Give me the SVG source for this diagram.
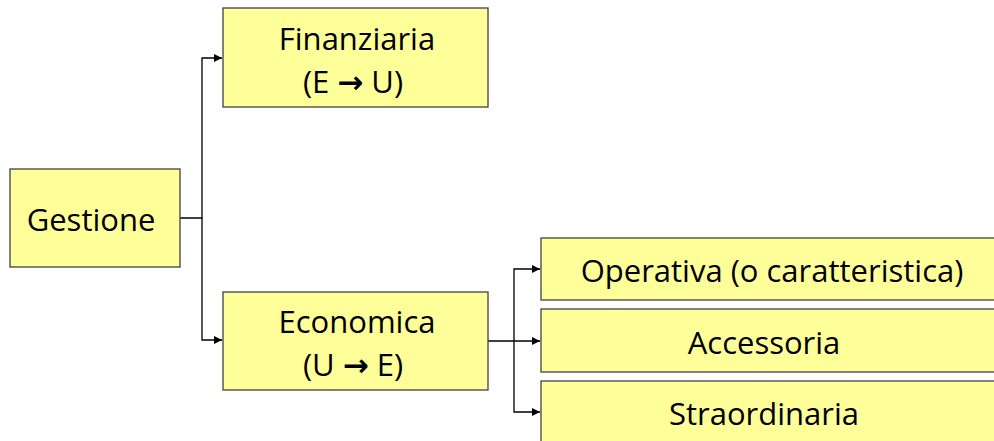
<svg xmlns="http://www.w3.org/2000/svg" width="994" height="441" viewBox="0 0 994 441">
<defs>
<marker id="ah" markerWidth="8" markerHeight="8" refX="8" refY="4" orient="auto" markerUnits="userSpaceOnUse">
<path d="M0,0 L8,4 L0,8 Z" fill="#000"/>
</marker>
<style>
.box{fill:#FFFF99;stroke:#404040;stroke-width:1.3}
.t{font-family:"Open Sans","Liberation Sans",sans-serif;font-size:31px;fill:#000;text-anchor:middle}
.a{font-family:"DejaVu Sans",sans-serif;font-weight:bold}
.c{fill:none;stroke:#000;stroke-width:1.3}
</style>
</defs>
<rect width="994" height="441" fill="#fff"/>
<g id="connectors">
<path class="c" d="M180,218 H202 V58 H222" marker-end="url(#ah)"/>
<path class="c" d="M202,218 V340 H222" marker-end="url(#ah)"/>
<path class="c" d="M488,341 H540" marker-end="url(#ah)"/>
<path class="c" d="M514,341 V269 H540" marker-end="url(#ah)"/>
<path class="c" d="M514,341 V412 H540" marker-end="url(#ah)"/>
</g>
<g id="gestione">
<rect class="box" x="10" y="169" width="170" height="98"/>
<text class="t" x="91" y="231">Gestione</text>
</g>
<g id="finanziaria">
<rect class="box" x="223" y="8" width="265" height="99"/>
<text class="t" x="357" y="50">Finanziaria</text>
<text class="t" x="353" y="93">(E  <tspan class="a">→</tspan>  U)</text>
</g>
<g id="economica">
<rect class="box" x="223" y="292" width="265" height="98"/>
<text class="t" x="357" y="333">Economica</text>
<text class="t" x="353" y="376">(U  <tspan class="a">→</tspan>  E)</text>
</g>
<g id="operativa">
<rect class="box" x="541" y="238" width="460" height="62"/>
<text class="t" x="772" y="282">Operativa (o caratteristica)</text>
</g>
<g id="accessoria">
<rect class="box" x="541" y="309" width="460" height="63"/>
<text class="t" x="764" y="354">Accessoria</text>
</g>
<g id="straordinaria">
<rect class="box" x="541" y="381" width="460" height="70"/>
<text class="t" x="764" y="425">Straordinaria</text>
</g>
</svg>
